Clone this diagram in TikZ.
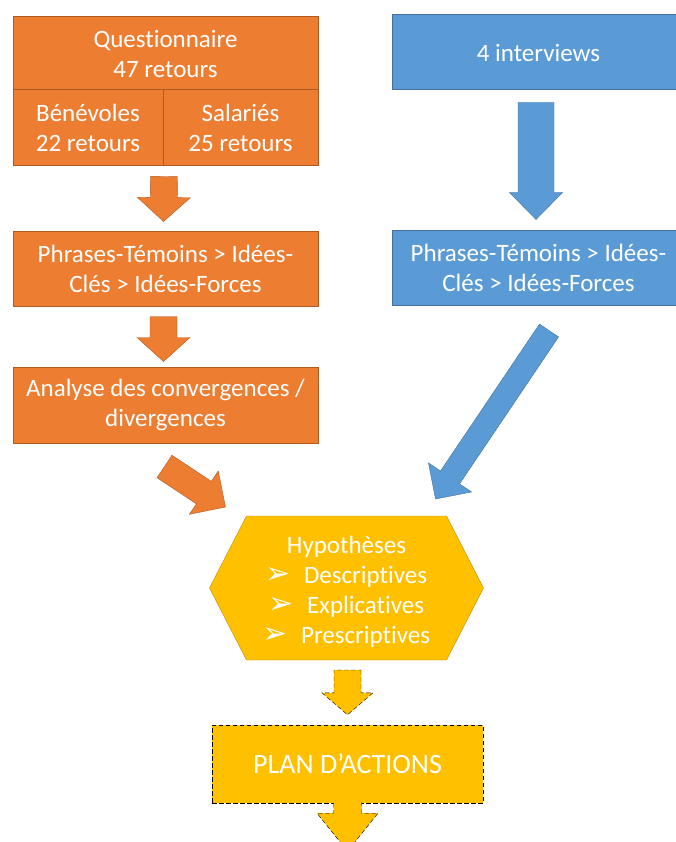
\documentclass[tikz,border=0pt]{standalone}
\usepackage{fontspec}
\setmainfont{Carlito}[Ligatures=NoCommon]
\newfontfamily\symfont{DejaVu Sans}
\usetikzlibrary{calc,backgrounds}

\definecolor{orangefill}{HTML}{ED7D31}
\definecolor{orangeline}{HTML}{AE5A21}
\definecolor{bluefill}{HTML}{5B9BD5}
\definecolor{blueline}{HTML}{41719C}
\definecolor{goldfill}{HTML}{FFC000}
\definecolor{goldline}{HTML}{BC8C00}

% block arrow: [closing]{style}{from}{to}{shaft}{head}{head length}
\newcommand{\blockarrow}[7][-- cycle]{%
  \coordinate (ba-h) at ($(#4)!#7pt!(#3)$);
  \filldraw[#2] ($(#3)!0.5*#5pt!90:(#4)$) -- ($(ba-h)!0.5*#5pt!90:(#4)$)
    -- ($(ba-h)!0.5*#6pt!90:(#4)$) -- (#4) -- ($(ba-h)!0.5*#6pt!-90:(#4)$)
    -- ($(ba-h)!0.5*#5pt!-90:(#4)$) -- ($(#3)!0.5*#5pt!-90:(#4)$) #1;
}
\newcommand{\puce}{{\symfont\fontsize{30}{30}\selectfont ➢}\hspace{13pt}}

\begin{document}
\begin{tikzpicture}[x=1pt, y=-1pt, line width=1pt,
    box/.style={rectangle, inner sep=0pt, align=center, text=white,
      font=\fontsize{25}{30}\selectfont},
    orangebox/.style={box, draw=orangeline, fill=orangefill},
    bluebox/.style={box, draw=blueline, fill=bluefill},
    oarrow/.style={draw=orangeline, fill=orangefill},
    barrow/.style={draw=blueline, fill=bluefill},
    yarrow/.style={draw=black, dashed, dash pattern=on 4.5pt off 2.5pt, fill=goldfill}]
    \useasboundingbox (0,0) rectangle (676,842);

    % left column
    \node[orangebox, minimum width=305pt, minimum height=75pt] (quest) at (165.5,54) {Questionnaire\\47 retours};
    \node[orangebox, minimum width=150pt, minimum height=76pt] (benev) at (88,128) {Bénévoles\\22 retours};
    \node[orangebox, minimum width=155pt, minimum height=76pt] (salar) at (240.5,128) {Salariés\\25 retours};
    \node[orangebox, minimum width=305pt, minimum height=75pt] (temoinsO) at (165.5,268.5) {Phrases-Témoins > Idées-\\Clés > Idées-Forces};
    \node[orangebox, minimum width=305pt, minimum height=76pt] (analyse) at (165.5,405) {Analyse des convergences /\\divergences};

    % right column
    \node[bluebox, minimum width=293pt, minimum height=75pt] (interv) at (538.5,52.5) {4 interviews};
    \node[bluebox, minimum width=293pt, minimum height=75pt] (temoinsB) at (538.5,267.5) {Phrases-Témoins > Idées-\\Clés > Idées-Forces};

    % hypotheses and plan
    \node[box, minimum width=273pt, minimum height=143pt] (hypo) at (346.5,592)
        {Hypothèses\\\puce Descriptives\\\puce Explicatives\\\puce Prescriptives};
    \begin{pgfonlayer}{background}
        \filldraw[draw=goldline, fill=goldfill] ($(hypo.west)+(0,-4)$) -- ($(hypo.north west)+(37,-4)$)
            -- ($(hypo.north east)+(-37,-4)$) -- ($(hypo.east)+(0,-4)$) -- ($(hypo.south east)+(-37,-4)$)
            -- ($(hypo.south west)+(37,-4)$) -- cycle;
    \end{pgfonlayer}
    \node[box, yarrow, minimum width=271pt, minimum height=78pt, font=\fontsize{28}{34}\selectfont] (plan) at (347.5,764) {PLAN D’ACTIONS};

    % arrow ends
    \coordinate (o1s) at ($(benev.south east)+(0.5,10)$);
    \coordinate (o1e) at ($(temoinsO.north)+(-2,-9)$);
    \coordinate (o2s) at ($(temoinsO.south)+(-2,10)$);
    \coordinate (o2e) at ($(analyse.north)+(-2,-5)$);
    \coordinate (o3s) at ($(analyse.south west)+(152,23)$);
    \coordinate (o3e) at ($(hypo.north west)+(16,-13)$);
    \coordinate (b1s) at ($(interv.south)+(-2.5,12)$);
    \coordinate (b1e) at ($(temoinsB.north)+(-2.5,-10)$);
    \coordinate (b2s) at ($(temoinsB.south)+(10.5,25)$);
    \coordinate (b2e) at ($(hypo.north east)+(-48,-21)$);
    \coordinate (y1s) at ($(hypo.south)+(1,6)$);
    \coordinate (y1e) at ($(plan.north)+(0,-10)$);
    \coordinate (y2s) at ($(plan.south)+(0,-1)$);
    \coordinate (y2e) at ($(plan.south)+(0,48)$);

    % block arrows
    \blockarrow{oarrow}{o1s}{o1e}{27}{53}{24}
    \blockarrow{oarrow}{o2s}{o2e}{27}{53}{24}
    \blockarrow{oarrow}{o3s}{o3e}{27}{52}{26}
    \blockarrow{barrow}{b1s}{b1e}{36}{53}{27}
    \blockarrow{barrow}{b2s}{b2e}{23}{52}{26}
    \blockarrow{yarrow}{y1s}{y1e}{27}{51}{22}
    \blockarrow[]{yarrow}{y2s}{y2e}{28}{61}{38}
\end{tikzpicture}
\end{document}
